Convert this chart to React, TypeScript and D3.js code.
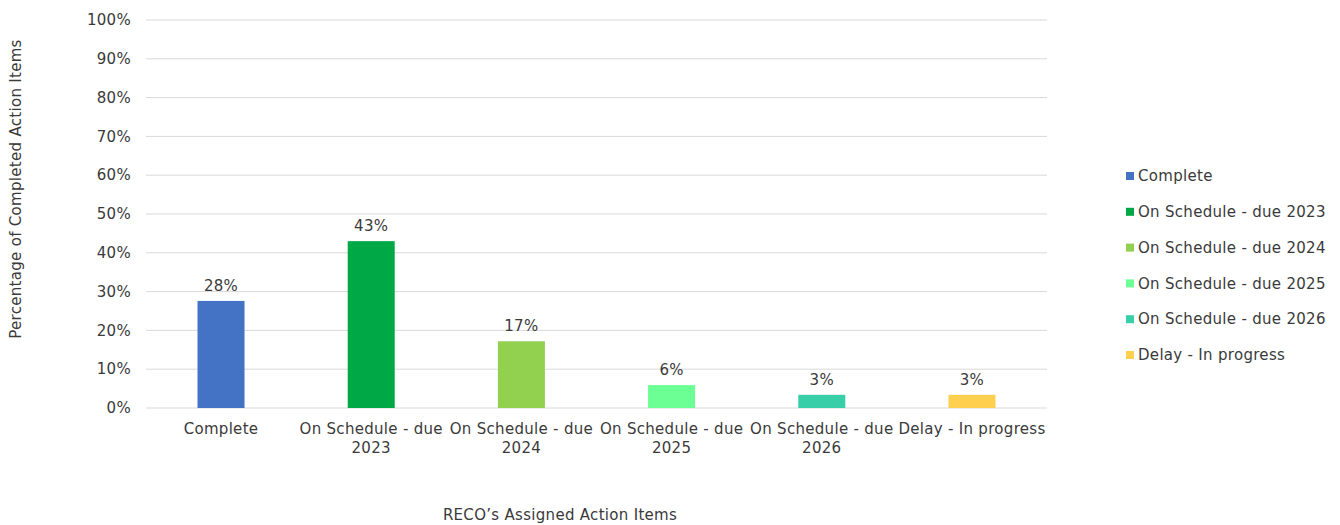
import React from "react";
import * as d3 from "d3";

const categories = [
  "Complete",
  "On Schedule - due 2023",
  "On Schedule - due 2024",
  "On Schedule - due 2025",
  "On Schedule - due 2026",
  "Delay - In progress",
];
const axisLabelLines = [
  ["Complete"],
  ["On Schedule - due", "2023"],
  ["On Schedule - due", "2024"],
  ["On Schedule - due", "2025"],
  ["On Schedule - due", "2026"],
  ["Delay - In progress"],
];
const values = [0.276, 0.43, 0.172, 0.059, 0.034, 0.034];
const valueLabels = ["28%", "43%", "17%", "6%", "3%", "3%"];
const colors = ["#4472C4", "#00A846", "#92D050", "#6BFF94", "#38CFA8", "#FFCF4F"];
const yTicks = [0, 0.1, 0.2, 0.3, 0.4, 0.5, 0.6, 0.7, 0.8, 0.9, 1.0];

const W = 1340;
const H = 525;
const FONT = "'DejaVu Sans', Verdana, sans-serif";
const TXT = "#3a3a3a";

export default function App() {
  const x = d3.scaleBand().domain(categories).range([146, 1047]).paddingInner(0.687).paddingOuter(0.343);
  const y = d3.scaleLinear().domain([0, 1]).range([408, 20]);
  const fmt = d3.format(".0%");
  return (
    <svg width={W} height={H} style={{ position: "absolute", left: 0, top: 0, background: "#fff" }}>
      <g fontFamily={FONT} fontSize={15} letterSpacing={0.3} fill={TXT}>
        {yTicks.map((t) => (
          <g key={t}>
            <line x1={146} x2={1047} y1={y(t)} y2={y(t)} stroke="#d9d9d9" strokeWidth={1} />
            <text x={131} y={y(t)} dy="0.35em" textAnchor="end">
              {fmt(t)}
            </text>
          </g>
        ))}
        {categories.map((c, i) => {
          const cx = x(c)! + x.bandwidth() / 2;
          return (
            <g key={c}>
              <rect x={x(c)} y={y(values[i])} width={x.bandwidth()} height={y(0) - y(values[i])} fill={colors[i]} />
              <text x={cx} y={y(values[i]) - 10} textAnchor="middle">
                {valueLabels[i]}
              </text>
              {axisLabelLines[i].map((l, j) => (
                <text key={j} x={cx} y={434 + j * 19} textAnchor="middle">
                  {l}
                </text>
              ))}
            </g>
          );
        })}
        <text transform="translate(21,189) rotate(-90)" textAnchor="middle">
          Percentage of Completed Action Items
        </text>
        <text x={560} y={520} textAnchor="middle">
          RECO’s Assigned Action Items
        </text>
        {categories.map((c, i) => (
          <g key={"lg" + c}>
            <rect x={1126} y={172 + i * 35.8} width={8} height={8} fill={colors[i]} />
            <text x={1138} y={176 + i * 35.8} dy="0.35em">
              {c}
            </text>
          </g>
        ))}
      </g>
    </svg>
  );
}
